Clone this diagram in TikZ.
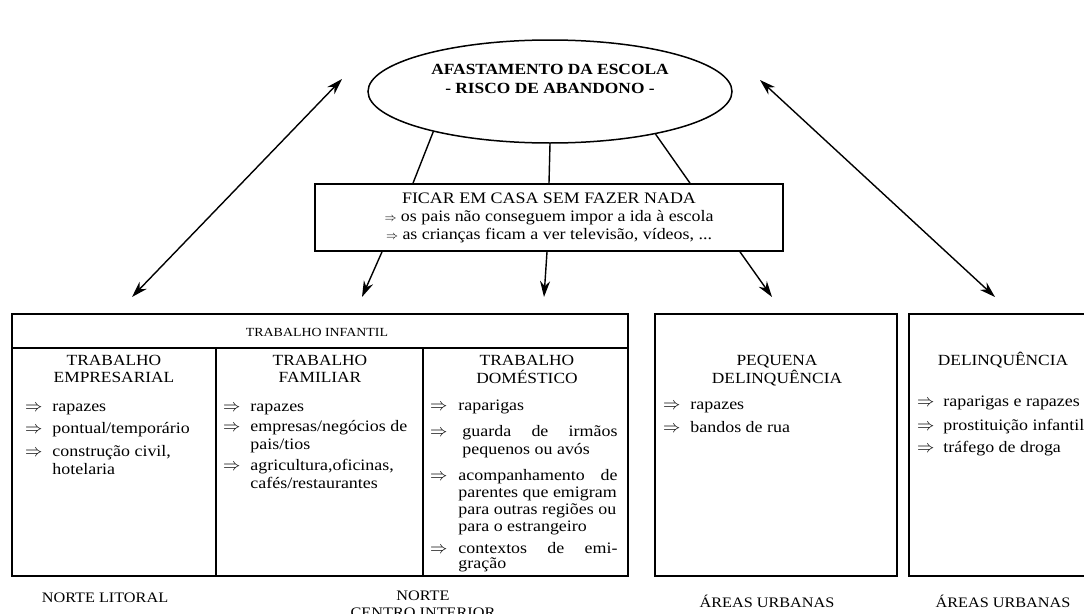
\documentclass[tikz,border=0pt]{standalone}
\usepackage{fontspec}
\setmainfont{Liberation Serif}[FakeStretch=1.12]
\usetikzlibrary{shapes.geometric,arrows.meta}

\newcommand{\imp}{$\Rightarrow$}
\newcommand{\impp}{{\fontsize{12}{12}\selectfont$\Rightarrow$}}

\begin{document}
\begin{tikzpicture}[x=1pt,y=-1pt,
    caixa/.style={draw,line width=1.7pt},
    ligacao/.style={line width=1.4pt},
    seta/.style={line width=1.4pt,-{Stealth[length=16pt,width=10pt]}},
    dupla/.style={line width=1.4pt,{Stealth[length=16pt,width=10pt]}-{Stealth[length=16pt,width=10pt]}},
    titulo/.style={anchor=base,inner sep=0pt,font=\fontsize{15.5}{17}\selectfont},
    lista/.style={anchor=base west,inner sep=0pt,font=\fontsize{16}{18}\selectfont},
    regiao/.style={anchor=base,inner sep=0pt,font=\fontsize{14.5}{17}\selectfont}]
    \useasboundingbox (0,0) rectangle (1084,613);

    % Centre
    \node[draw,ellipse,line width=1.5pt,minimum width=364pt,minimum height=103pt,inner sep=0pt] (escola) at (550,91.5) {};
    \node[font=\bfseries\fontsize{15.5}{19}\selectfont,align=center] (escolaTxt) at (550,79)
        {AFASTAMENTO DA ESCOLA\\- RISCO DE ABANDONO -};
    \node[caixa,minimum width=468pt,minimum height=67pt,align=center,font=\fontsize{16}{18}\selectfont] (casa) at (549,217.5)
        {FICAR EM CASA SEM FAZER NADA\\
         \impp\ os pais não conseguem impor a ida à escola\\
         \impp\ as crianças ficam a ver televisão, vídeos, ...};

    % Ligacoes
    \draw[ligacao] (escola.199.7) -- ([xshift=-136pt]casa.north);
    \draw[ligacao] (escola.south) -- (casa.north);
    \draw[ligacao] (escola.338.8) -- ([xshift=141pt]casa.north);

    \coordinate (fimFam) at (362,297);
    \coordinate (fimDom) at (544,297);
    \coordinate (fimPeq) at (772,297);
    \draw[seta] ([xshift=-167pt]casa.south) -- (fimFam);
    \draw[seta] ([xshift=-2pt]casa.south) -- (fimDom);
    \draw[seta] ([xshift=191pt]casa.south) -- (fimPeq);

    \coordinate (altoEsq) at (342,79);
    \coordinate (baixoEsq) at (132,297);
    \coordinate (altoDir) at (760,80);
    \coordinate (baixoDir) at (995,297);
    \draw[dupla] (altoEsq) -- (baixoEsq);
    \draw[dupla] (altoDir) -- (baixoDir);

    % Trabalho infantil
    \draw[caixa] (12,314) rectangle (628,576);
    \draw[caixa] (12,348) -- (628,348);
    \draw[caixa] (216,348) -- (216,576);
    \draw[caixa] (423,348) -- (423,576);
    \node[anchor=base,inner sep=0pt,font=\fontsize{12.4}{14}\selectfont] (infantil) at (317,336) {TRABALHO INFANTIL};

    \node[titulo] (tEmp) at (114,365.5) {\begin{tabular}[t]{@{}c@{}}TRABALHO\\EMPRESARIAL\end{tabular}};
    \node[titulo] (tFam) at (320,365.5) {\begin{tabular}[t]{@{}c@{}}TRABALHO\\FAMILIAR\end{tabular}};
    \node[titulo] (tDom) at (527,365.5) {\begin{tabular}[t]{@{}c@{}}TRABALHO\\DOMÉSTICO\end{tabular}};

    \node[lista] (lEmp) at (25,411) {\begin{tabular}[t]{@{}l@{\hspace{10pt}}l@{}}
        \imp & rapazes\\[4pt]
        \imp & pontual/temporário\\[5pt]
        \imp & construção civil,\\
             & hotelaria
        \end{tabular}};
    \node[lista] (lFam) at (223,411) {\begin{tabular}[t]{@{}l@{\hspace{10pt}}l@{}}
        \imp & rapazes\\[2pt]
        \imp & empresas/negócios de\\
             & pais/tios\\[3pt]
        \imp & agricultura,oficinas,\\
             & cafés/restaurantes
        \end{tabular}};
    \node[lista] (lDom) at (430,410) {\begin{tabular}[t]{@{}l@{\hspace{11pt}}l@{}}
        \imp & raparigas\\[8pt]
        \imp & \hspace*{4pt}\makebox[155pt][s]{guarda de irmãos}\\
             & \hspace*{4pt}pequenos ou avós\\[8pt]
        \imp & \makebox[159pt][s]{acompanhamento de}\\[-1pt]
             & parentes que emigram\\[-1pt]
             & para outras regiões ou\\[-1pt]
             & para o estrangeiro\\[4pt]
        \imp & \makebox[159pt][s]{contextos de emi-}\\[-3pt]
             & gração
        \end{tabular}};

    % Delinquencia
    \draw[caixa] (655,314) rectangle (897,576);
    \node[titulo] (tPeq) at (777,365.5) {\begin{tabular}[t]{@{}c@{}}PEQUENA\\DELINQUÊNCIA\end{tabular}};
    \node[lista] (lPeq) at (663,409) {\begin{tabular}[t]{@{}l@{\hspace{10pt}}l@{}}
        \imp & rapazes\\[5pt]
        \imp & bandos de rua
        \end{tabular}};

    \draw[caixa] (909,314) rectangle (1100,576);
    \node[titulo] (tDel) at (1003,365.5) {DELINQUÊNCIA};
    \node[lista] (lDel) at (917,406) {\begin{tabular}[t]{@{}l@{\hspace{9pt}}l@{}}
        \imp & raparigas e rapazes\\[6pt]
        \imp & prostituição infantil\\[4pt]
        \imp & tráfego de droga
        \end{tabular}};

    % Regioes
    \node[regiao] (rLit) at (105,602) {NORTE LITORAL};
    \node[regiao] (rInt) at (423,600) {\begin{tabular}[t]{@{}c@{}}NORTE\\CENTRO INTERIOR\end{tabular}};
    \node[regiao] (rUrb1) at (767,607) {ÁREAS URBANAS};
    \node[regiao] (rUrb2) at (1003,607) {ÁREAS URBANAS};
\end{tikzpicture}
\end{document}
